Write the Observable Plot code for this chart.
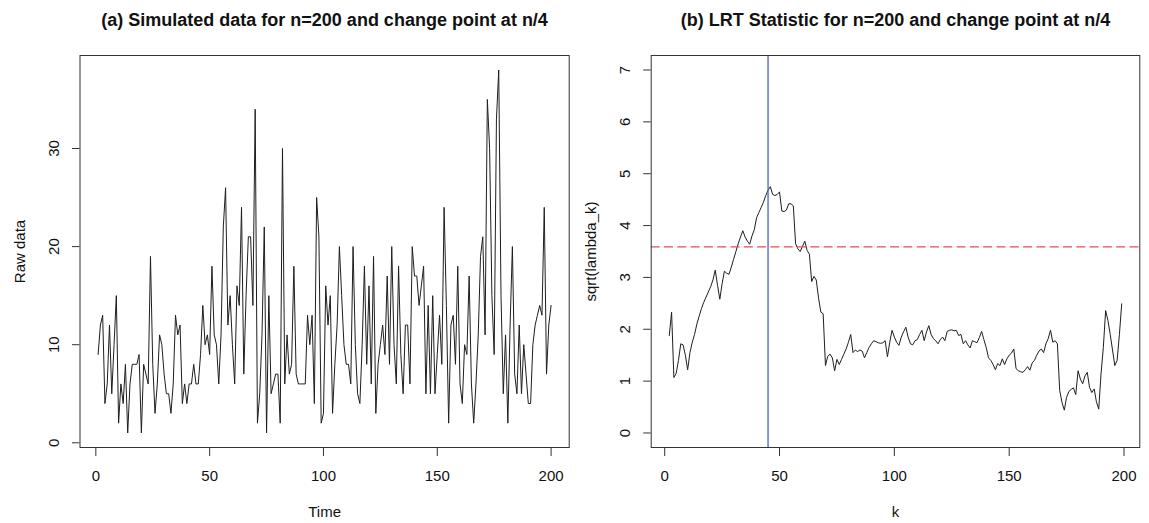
<!DOCTYPE html>
<html>
<head>
<meta charset="utf-8">
<script src="https://cdn.jsdelivr.net/npm/d3@7"></script>
<script src="https://cdn.jsdelivr.net/npm/@observablehq/plot@0.6"></script>
<style>
  html, body { margin: 0; padding: 0; background: #fff; }
  #wrap { position: relative; width: 1149px; height: 523px; overflow: hidden; }
  #wrap > div { position: absolute; top: 0; }
  svg { display: block; }
</style>
</head>
<body>
<div id="wrap"><div id="left" style="left:0px"></div><div id="right" style="left:575px"></div></div>
<script>
// ---------- Data ----------
const titleA = "(a) Simulated data for n=200 and change point at n/4";
const titleB = "(b) LRT Statistic for n=200 and change point at n/4";
const xLabelA = "Time", yLabelA = "Raw data";
const xLabelB = "k", yLabelB = "sqrt(lambda_k)";

// raw simulated series, Time = 1..200
const rawValues = [
  9,12,13,4,6,12,5,10,15,2,
  6,4,8,1,6,8,8,8,9,1,
  8,7,6,19,8,3,6,11,10,7,
  5,5,3,6,13,11,12,4,6,4,
  6,6,8,6,6,9,14,10,11,9,
  18,11,10,6,11,22,26,12,15,10,
  6,16,14,24,7,15,21,21,14,34,
  2,5,11,22,1,15,5,6,7,7,
  2,30,6,11,7,8,18,7,6,6,
  6,6,13,10,13,4,25,21,2,3,
  16,12,15,3,8,12,20,15,10,8,
  8,6,20,10,5,4,10,18,8,16,
  6,19,3,8,10,12,9,17,8,20,
  10,6,18,9,5,12,12,6,20,17,
  17,14,16,18,5,14,5,15,5,9,
  13,8,24,14,2,12,13,8,18,6,
  4,10,9,17,6,2,6,11,19,21,
  11,35,30,15,9,33,38,15,5,11,
  2,12,20,7,5,12,5,10,7,4,
  4,10,12,13,14,13,24,7,12,14
];
const timeStart = 1;

// sqrt(lambda_k) statistic, k = 2..199
const lambdaValues = [
  1.88,2.33,1.07,1.15,1.40,1.72,1.70,1.50,1.22,
  1.55,1.75,1.90,2.10,2.25,2.40,2.52,2.62,2.72,2.82,
  2.95,3.14,2.85,2.58,2.88,3.12,3.08,3.06,3.20,3.35,
  3.50,3.65,3.78,3.90,3.78,3.70,3.64,3.80,3.92,4.15,
  4.25,4.35,4.45,4.58,4.68,4.75,4.60,4.58,4.60,4.65,
  4.28,4.27,4.30,4.42,4.42,4.38,3.65,3.55,3.50,3.60,
  3.70,3.52,3.45,2.92,3.02,2.95,2.60,2.33,2.30,1.30,
  1.48,1.52,1.45,1.20,1.42,1.32,1.42,1.52,1.62,1.75,
  1.90,1.55,1.60,1.57,1.60,1.58,1.45,1.55,1.65,1.72,
  1.78,1.76,1.74,1.73,1.74,1.78,1.47,1.75,1.98,1.85,
  1.75,1.69,1.85,1.95,2.04,1.85,1.72,1.70,1.78,1.80,
  1.90,1.98,1.78,1.95,2.07,1.90,1.82,1.78,1.72,1.80,
  1.85,1.78,1.96,1.98,1.99,1.97,1.98,1.88,1.90,1.72,
  1.78,1.70,1.64,1.78,1.76,1.74,1.84,1.96,1.80,1.65,
  1.45,1.40,1.32,1.22,1.34,1.30,1.43,1.32,1.43,1.50,
  1.54,1.62,1.24,1.20,1.18,1.17,1.22,1.28,1.21,1.35,
  1.40,1.50,1.58,1.62,1.55,1.72,1.82,1.98,1.75,1.78,
  1.72,0.82,0.59,0.44,0.69,0.80,0.84,0.87,0.74,1.20,
  1.04,0.95,1.10,1.17,0.88,0.78,0.85,0.60,0.46,1.14,
  1.65,2.36,2.17,1.90,1.60,1.30,1.40,1.90,2.49
];
const kStart = 2;

const changePointK = 45;      // blue vertical line
const thresholdValue = 3.59;  // red dashed line

const xTicksA = [0, 50, 100, 150, 200];
const yTicksA = [0, 10, 20, 30];
const xTicksB = [0, 50, 100, 150, 200];
const yTicksB = [0, 1, 2, 3, 4, 5, 6, 7];

// ---------- Helpers ----------
const font = "'Liberation Sans', Arial, Helvetica, sans-serif";
const axisColor = "#333";
function padded(lo, hi) { const d = (hi - lo) * 0.04; return [lo - d, hi + d]; }

const rawData = rawValues.map((v, i) => ({t: timeStart + i, v}));
const lamData = lambdaValues.map((v, i) => ({k: kStart + i, v}));

function panel({width, marginLeft, marginRight, xDomain, yDomain, xTicks, yTicks, title, xLabel, yLabel, marks}) {
  return Plot.plot({
    width, height: 523,
    marginLeft, marginRight, marginTop: 55, marginBottom: 76,
    style: {fontFamily: font, background: "white", overflow: "visible"},
    x: {domain: xDomain},
    y: {domain: yDomain},
    marks: [
      ...marks,
      Plot.frame({stroke: axisColor, strokeWidth: 1}),
      Plot.axisX({ticks: xTicks, tickSize: 9, tickPadding: 14, fontSize: 15, label: null, stroke: axisColor, fill: "#111"}),
      Plot.axisY({ticks: yTicks, tickSize: 7.5, tickFormat: () => "", label: null, stroke: axisColor}),
      Plot.text(yTicks, {y: d => d, text: d => String(d), frameAnchor: "left", rotate: -90, dx: -21.2, lineAnchor: "bottom", textAnchor: "middle", fontSize: 15, fill: "#111"}),
      Plot.text([title], {frameAnchor: "top", dy: -30, lineAnchor: "bottom", fontSize: 18, fontWeight: "bold", fill: "#111"}),
      Plot.text([xLabel], {frameAnchor: "bottom", dy: 69.7, lineAnchor: "bottom", fontSize: 15, fill: "#111"}),
      Plot.text([yLabel], {frameAnchor: "left", dx: -55.5, rotate: -90, lineAnchor: "bottom", textAnchor: "middle", fontSize: 15, fill: "#111"})
    ]
  });
}

const left = panel({
  width: 575, marginLeft: 79.5, marginRight: 6.3,
  xDomain: padded(timeStart, timeStart + rawValues.length - 1),
  yDomain: padded(d3.min(rawValues), d3.max(rawValues)),
  xTicks: xTicksA, yTicks: yTicksA,
  title: titleA, xLabel: xLabelA, yLabel: yLabelA,
  marks: [Plot.line(rawData, {x: "t", y: "v", stroke: "#1e1e1e", strokeWidth: 1})]
});

const right = panel({
  width: 574, marginLeft: 75.7, marginRight: 9.7,
  xDomain: padded(kStart, kStart + lambdaValues.length - 1),
  yDomain: padded(0, 7),
  xTicks: xTicksB, yTicks: yTicksB,
  title: titleB, xLabel: xLabelB, yLabel: yLabelB,
  marks: [
    Plot.line(lamData, {x: "k", y: "v", stroke: "#1e1e1e", strokeWidth: 1}),
    Plot.ruleX([changePointK], {stroke: "#4f5fc8", strokeWidth: 1.3}),
    Plot.ruleY([thresholdValue], {stroke: "#e05050", strokeWidth: 1.3, strokeDasharray: "9,4.3"})
  ]
});

document.getElementById("left").appendChild(left);
document.getElementById("right").appendChild(right);
</script>
</body>
</html>
